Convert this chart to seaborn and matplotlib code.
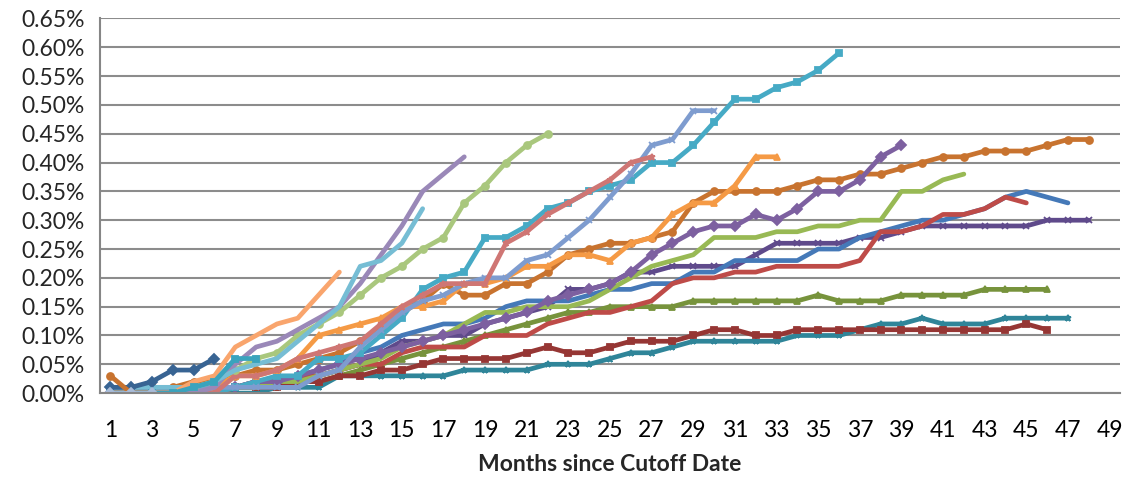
import matplotlib.pyplot as plt
import matplotlib.ticker as mticker
import seaborn as sns
import pandas as pd

# cumulative loss curves by cohort, values in percent, month 1 first
brown = [0, 0, 0.01, 0.01, 0.02, 0.02, 0.03, 0.04, 0.04, 0.05, 0.06, 0.07,
         0.09, 0.11, 0.14, 0.16, 0.19, 0.17, 0.17, 0.19, 0.19, 0.21, 0.24, 0.25,
         0.26, 0.26, 0.27, 0.28, 0.33, 0.35, 0.35, 0.35, 0.35, 0.36, 0.37, 0.37,
         0.38, 0.38, 0.39, 0.40, 0.41, 0.41, 0.42, 0.42, 0.42, 0.43, 0.44, 0.44]
dark_purple = [0, 0, 0, 0, 0, 0, 0.01, 0.01, 0.02, 0.02, 0.03, 0.04,
               0.05, 0.07, 0.09, 0.09, 0.10, 0.10, 0.12, 0.13, 0.14, 0.15, 0.18, 0.18,
               0.19, 0.21, 0.21, 0.22, 0.22, 0.22, 0.22, 0.24, 0.26, 0.26, 0.26, 0.26,
               0.27, 0.27, 0.28, 0.29, 0.29, 0.29, 0.29, 0.29, 0.29, 0.30, 0.30, 0.30]
blue = [0.01, 0.01, 0.01, 0.01, 0.01, 0.01, 0.01, 0.02, 0.02, 0.03, 0.04, 0.05,
        0.07, 0.08, 0.10, 0.11, 0.12, 0.12, 0.13, 0.15, 0.16, 0.16, 0.16, 0.17,
        0.18, 0.18, 0.19, 0.19, 0.21, 0.21, 0.23, 0.23, 0.23, 0.23, 0.25, 0.25,
        0.27, 0.28, 0.29, 0.30, 0.30, 0.31, 0.32, 0.34, 0.35, 0.34, 0.33]
teal = [0, 0, 0, 0, 0, 0, 0, 0, 0.01, 0.01, 0.01, 0.03,
        0.03, 0.03, 0.03, 0.03, 0.03, 0.04, 0.04, 0.04, 0.04, 0.05, 0.05, 0.05,
        0.06, 0.07, 0.07, 0.08, 0.09, 0.09, 0.09, 0.09, 0.09, 0.10, 0.10, 0.10,
        0.11, 0.12, 0.12, 0.13, 0.12, 0.12, 0.12, 0.13, 0.13, 0.13, 0.13]
olive = [0, 0, 0, 0, 0, 0, 0.01, 0.01, 0.01, 0.02, 0.02, 0.03,
         0.04, 0.05, 0.06, 0.07, 0.08, 0.09, 0.10, 0.11, 0.12, 0.13, 0.14, 0.14,
         0.15, 0.15, 0.15, 0.15, 0.16, 0.16, 0.16, 0.16, 0.16, 0.16, 0.17, 0.16,
         0.16, 0.16, 0.17, 0.17, 0.17, 0.17, 0.18, 0.18, 0.18, 0.18]
dark_red = [0, 0, 0, 0, 0, 0, 0.01, 0.01, 0.01, 0.02, 0.02, 0.03,
            0.03, 0.04, 0.04, 0.05, 0.06, 0.06, 0.06, 0.06, 0.07, 0.08, 0.07, 0.07,
            0.08, 0.09, 0.09, 0.09, 0.10, 0.11, 0.11, 0.10, 0.10, 0.11, 0.11, 0.11,
            0.11, 0.11, 0.11, 0.11, 0.11, 0.11, 0.11, 0.11, 0.12, 0.11]
red = [0, 0, 0, 0, 0, 0.01, 0.01, 0.02, 0.02, 0.03, 0.03, 0.04,
       0.05, 0.05, 0.07, 0.08, 0.08, 0.08, 0.10, 0.10, 0.10, 0.12, 0.13, 0.14,
       0.14, 0.15, 0.16, 0.19, 0.20, 0.20, 0.21, 0.21, 0.22, 0.22, 0.22, 0.22,
       0.23, 0.28, 0.28, 0.29, 0.31, 0.31, 0.32, 0.34, 0.33]
green = [0, 0, 0, 0, 0, 0, 0.01, 0.01, 0.02, 0.02, 0.03, 0.04,
         0.05, 0.06, 0.08, 0.09, 0.10, 0.12, 0.14, 0.14, 0.15, 0.15, 0.15, 0.16,
         0.18, 0.20, 0.22, 0.23, 0.24, 0.27, 0.27, 0.27, 0.28, 0.28, 0.29, 0.29,
         0.30, 0.30, 0.35, 0.35, 0.37, 0.38]
purple = [0, 0, 0, 0, 0, 0, 0.01, 0.02, 0.02, 0.03, 0.04, 0.05,
          0.06, 0.07, 0.08, 0.09, 0.10, 0.11, 0.12, 0.13, 0.14, 0.16, 0.17, 0.18,
          0.19, 0.21, 0.24, 0.26, 0.28, 0.29, 0.29, 0.31, 0.30, 0.32, 0.35, 0.35,
          0.37, 0.41, 0.43]
aqua = [0, 0, 0, 0, 0, 0, 0.01, 0.02, 0.03, 0.03, 0.06, 0.06,
        0.07, 0.10, 0.13, 0.18, 0.20, 0.21, 0.27, 0.27, 0.29, 0.32, 0.33, 0.35,
        0.36, 0.37, 0.40, 0.40, 0.43, 0.47, 0.51, 0.51, 0.53, 0.54, 0.56, 0.59]
orange = [0, 0, 0, 0, 0, 0.01, 0.03, 0.03, 0.04, 0.06, 0.10, 0.11,
          0.12, 0.13, 0.15, 0.15, 0.16, 0.19, 0.19, 0.20, 0.22, 0.22, 0.24, 0.24,
          0.23, 0.26, 0.27, 0.31, 0.33, 0.33, 0.36, 0.41, 0.41]
light_blue = [0, 0, 0, 0, 0.01, 0.01, 0.01, 0.01, 0.01, 0.01, 0.03, 0.04,
              0.08, 0.11, 0.14, 0.16, 0.17, 0.19, 0.20, 0.20, 0.23, 0.24, 0.27, 0.30,
              0.34, 0.38, 0.43, 0.44, 0.49, 0.49]
pink = [0, 0, 0, 0, 0, 0, 0.03, 0.03, 0.04, 0.06, 0.07, 0.08,
        0.09, 0.12, 0.15, 0.17, 0.19, 0.19, 0.19, 0.26, 0.28, 0.31, 0.33, 0.35,
        0.37, 0.40, 0.41]
light_green = [0, 0, 0, 0, 0.01, 0.02, 0.04, 0.06, 0.07, 0.10, 0.12, 0.14,
               0.17, 0.20, 0.22, 0.25, 0.27, 0.33, 0.36, 0.40, 0.43, 0.45]
lavender = [0, 0, 0, 0, 0, 0.01, 0.05, 0.08, 0.09, 0.11, 0.13, 0.15,
            0.19, 0.24, 0.29, 0.35, 0.38, 0.41]
light_aqua = [0.01, 0.01, 0.01, 0.01, 0.01, 0.02, 0.04, 0.05, 0.06, 0.09, 0.12, 0.15,
              0.22, 0.23, 0.26, 0.32]
light_orange = [0, 0, 0, 0, 0.02, 0.03, 0.08, 0.10, 0.12, 0.13, 0.17, 0.21]
aqua_short = [0, 0, 0, 0, 0.01, 0.02, 0.06, 0.06]
dark_blue = [0.01, 0.01, 0.02, 0.04, 0.04, 0.06]
brown_short = [0.03, 0.00]
grey_blue = [0, 0, 0]

y_ticks = [i * 0.05 for i in range(14)]
x_labels = list(range(1, 50, 2))

# name: (values, colour, marker)
series = {
    'brown': (brown, '#C8732F', 'o'),
    'dark_purple': (dark_purple, '#5F4A8B', 'x'),
    'blue': (blue, '#4579B8', None),
    'teal': (teal, '#2F8599', '*'),
    'olive': (olive, '#77933C', '^'),
    'dark_red': (dark_red, '#963634', 's'),
    'red': (red, '#BE4B48', None),
    'green': (green, '#98B954', None),
    'purple': (purple, '#7D60A0', 'D'),
    'aqua': (aqua, '#46AAC5', 's'),
    'orange': (orange, '#F59A45', '^'),
    'light_blue': (light_blue, '#7E9CCF', 'x'),
    'pink': (pink, '#CF7674', '*'),
    'light_green': (light_green, '#A9C77D', 'o'),
    'lavender': (lavender, '#9A88B8', None),
    'light_aqua': (light_aqua, '#76BDD4', None),
    'light_orange': (light_orange, '#F9A56D', None),
    'aqua_short': (aqua_short, '#3AA3BD', 's'),
    'dark_blue': (dark_blue, '#386493', 'D'),
    'brown_short': (brown_short, '#C8732F', 'o'),
    'grey_blue': (grey_blue, '#A9BCD9', 'D'),
}

sns.set_style('white')
plt.rcParams['font.family'] = ['Lato', 'DejaVu Sans']

fig = plt.figure(figsize=(11.39, 4.8), dpi=100)
ax = fig.add_axes([0.0878, 0.181, 0.8955, 0.7805])

for name, (vals, col, mk) in series.items():
    df = pd.DataFrame({'month': range(1, len(vals) + 1), 'rate': vals})
    sns.lineplot(data=df, x='month', y='rate', color=col, linewidth=3.4,
                 marker=mk, markersize=5, markeredgecolor=col, markeredgewidth=1.3,
                 ax=ax, legend=False)

ax.set_xlim(0.5, 49.5)
ax.set_ylim(0, 0.65)
ax.set_yticks(y_ticks)
ax.yaxis.set_major_formatter(mticker.FuncFormatter(lambda v, p: '%.2f%%' % v))
ax.set_xticks(x_labels)
ax.set_xticks([i + 0.5 for i in range(0, 50)], minor=True)
ax.tick_params(axis='x', which='major', length=0, labelsize=16.5, pad=19, colors='black')
ax.tick_params(axis='x', which='minor', length=7, width=1.3, color='#868686', direction='out')
ax.tick_params(axis='y', which='major', length=7, width=1.3, color='#868686', labelsize=16.5, pad=4)
ax.yaxis.grid(True, color='#8C8C8C', linewidth=1.5)
ax.set_axisbelow(True)
for s in ['top', 'right']:
    ax.spines[s].set_visible(False)
for s in ['left', 'bottom']:
    ax.spines[s].set_color('#868686')
    ax.spines[s].set_linewidth(1.5)

ax.set_xlabel('Months since Cutoff Date', fontsize=16.5, fontweight='bold', labelpad=10)
ax.set_ylabel('')

plt.savefig('out.png', dpi=100)
